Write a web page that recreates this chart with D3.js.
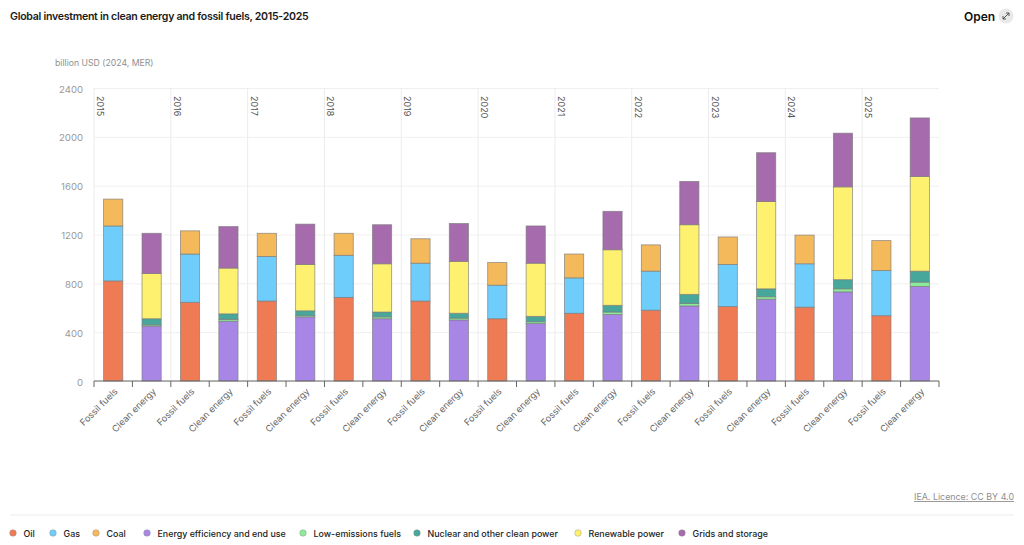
<!DOCTYPE html>
<html>
<head>
<meta charset="utf-8">
<script src="https://cdn.jsdelivr.net/npm/d3@7"></script>
<style>
  html, body { margin: 0; background: #fff; }
  svg { display: block; font-family: Inter, sans-serif; }
</style>
</head>
<body>
<svg id="chart" width="1024" height="545"></svg>
<script>
// values in billion USD
const years = ["2015", "2016", "2017", "2018", "2019", "2020", "2021", "2022", "2023", "2024", "2025"];
const groups = ["Fossil fuels", "Clean energy"];
const seriesNames = ["Oil", "Gas", "Coal", "Energy efficiency and end use", "Low-emissions fuels", "Nuclear and other clean power", "Renewable power", "Grids and storage"];
const seriesColors = ["#ef7b55", "#6fcdfb", "#f4b95b", "#a886e6", "#8beb98", "#47a79b", "#fdf16f", "#a56bac"];
const yTicks = [0, 400, 800, 1200, 1600, 2000, 2400];

const oil = [820, 645, 655, 685, 655, 510, 555, 580, 610, 605, 535];
const gas = [450, 395, 365, 345, 310, 275, 290, 320, 345, 355, 370];
const coal = [220, 190, 190, 180, 200, 185, 195, 215, 225, 235, 245];
const efficiency = [450, 490, 525, 510, 500, 470, 545, 615, 670, 730, 775];
const lowEmissions = [10, 15, 10, 15, 15, 15, 20, 20, 20, 25, 35];
const nuclear = [50, 45, 40, 40, 40, 45, 55, 75, 65, 75, 90];
const renewables = [370, 375, 380, 395, 425, 435, 455, 570, 715, 760, 775];
const grids = [330, 340, 330, 320, 310, 305, 315, 355, 400, 440, 480];

const fossilArrays = [oil, gas, coal];
const cleanArrays = [efficiency, lowEmissions, nuclear, renewables, grids];

// one row per bar, fossil then clean for every year
const rows = [];
years.forEach((yr, i) => {
    const fossil = { key: yr + groups[0], group: groups[0] };
    const clean = { key: yr + groups[1], group: groups[1] };
    seriesNames.forEach((name, s) => {
        fossil[name] = s < 3 ? fossilArrays[s][i] : 0;
        clean[name] = s < 3 ? 0 : cleanArrays[s - 3][i];
    });
    rows.push(fossil, clean);
});

const svg = d3.select("#chart");
const plotLeft = 94, plotRight = 939, plotTop = 88, plotBottom = 381;

const x = d3.scaleBand().domain(rows.map(d => d.key)).range([plotLeft, plotRight]).paddingInner(0.5).paddingOuter(0.25);
const y = d3.scaleLinear().domain([0, 2400]).range([plotBottom, plotTop]);
const color = d3.scaleOrdinal(seriesNames, seriesColors);
const step = x.step();

svg.append("text").attr("x", 10).attr("y", 20)
    .attr("font-size", 10.6).attr("letter-spacing", -0.28).attr("font-weight", 600).attr("fill", "#1a1a1a")
    .text("Global investment in clean energy and fossil fuels, 2015-2025");

svg.append("text").attr("x", 964).attr("y", 20.5)
    .attr("font-size", 12).attr("font-weight", 600).attr("fill", "#111")
    .text("Open");
const openIcon = svg.append("g").attr("transform", "translate(1006,16)");
openIcon.append("circle").attr("r", 7.5).attr("fill", "#e9e9e9");
openIcon.append("path").attr("d", "M-3,3L3,-3M0,-3H3V0M-3,0V3H0")
    .attr("fill", "none").attr("stroke", "#444").attr("stroke-width", 0.9);

svg.append("text").attr("x", 55).attr("y", 66)
    .attr("font-size", 8.7).attr("fill", "#8f8f8f")
    .text("billion USD (2024, MER)");

// horizontal grid + y labels
const yAxis = svg.append("g").attr("transform", `translate(${plotLeft},0)`)
    .call(d3.axisLeft(y).tickValues(yTicks).tickSize(-(plotRight - plotLeft)).tickPadding(11).tickFormat(d3.format("d")));
yAxis.select(".domain").remove();
yAxis.selectAll("line").attr("stroke", "#f0f0f0");
yAxis.selectAll("text").attr("font-size", 9.6).attr("dy", "0.42em").attr("fill", "#9a9a9a").attr("font-family", "Inter, sans-serif");

// vertical year lines and labels
const yearGroup = svg.append("g").selectAll("g").data(years).join("g")
    .attr("transform", d => `translate(${x(d + groups[0]) - step * 0.25},0)`);
yearGroup.append("line").attr("y1", plotTop).attr("y2", plotBottom).attr("stroke", "#ececec");
yearGroup.append("text")
    .attr("transform", `translate(3,${plotTop + 8}) rotate(90)`)
    .attr("font-size", 9).attr("fill", "#555")
    .text(d => d);

// stacked bars
const stacked = d3.stack().keys(seriesNames)(rows);
svg.append("g").selectAll("g").data(stacked).join("g")
    .attr("fill", d => color(d.key))
    .selectAll("rect")
    .data(d => d.filter(p => p[1] > p[0]))
    .join("rect")
    .attr("x", d => x(d.data.key))
    .attr("y", d => y(d[1]))
    .attr("width", x.bandwidth())
    .attr("height", d => y(d[0]) - y(d[1]))
    .attr("stroke", "#7c7c7c")
    .attr("stroke-opacity", 0.8)
    .attr("stroke-width", 0.8);

// x axis: ticks sit on the band edges, labels under the bars
const xAxis = svg.append("g").attr("transform", `translate(0,${plotBottom})`);
xAxis.append("line").attr("x1", plotLeft).attr("x2", plotRight).attr("stroke", "#666").attr("stroke-width", 1.2);
xAxis.selectAll("line.tick").data(d3.range(rows.length + 1)).join("line")
    .attr("class", "tick")
    .attr("x1", i => plotLeft + i * step)
    .attr("x2", i => plotLeft + i * step)
    .attr("y2", 6).attr("stroke", "#666");
xAxis.selectAll("text").data(rows).join("text")
    .attr("text-anchor", "end")
    .attr("transform", d => `translate(${x(d.key) + x.bandwidth() / 2 + 5},11) rotate(-45)`)
    .attr("font-size", 9.2).attr("fill", "#666")
    .text(d => d.group);

// footer
svg.append("text").attr("x", 1014).attr("y", 500).attr("text-anchor", "end")
    .attr("font-size", 8.9).attr("fill", "#8f8f8f").attr("text-decoration", "underline")
    .text("IEA. Licence: CC BY 4.0");
svg.append("line").attr("x1", 10).attr("x2", 1014).attr("y1", 515).attr("y2", 515).attr("stroke", "#ececec");

// legend
const legendDots = [13, 53, 96, 147, 303, 417, 578, 682];
const legend = svg.append("g").selectAll("g").data(seriesNames).join("g")
    .attr("transform", (d, i) => `translate(${legendDots[i]},533)`);
legend.append("circle").attr("r", 3.3).attr("fill", d => color(d))
    .attr("stroke", "#888").attr("stroke-width", 0.4);
legend.append("text").attr("x", 10.5).attr("y", 3.5)
    .attr("font-size", 8.9).attr("font-weight", 500).attr("fill", "#222")
    .text(d => d);
</script>
</body>
</html>
